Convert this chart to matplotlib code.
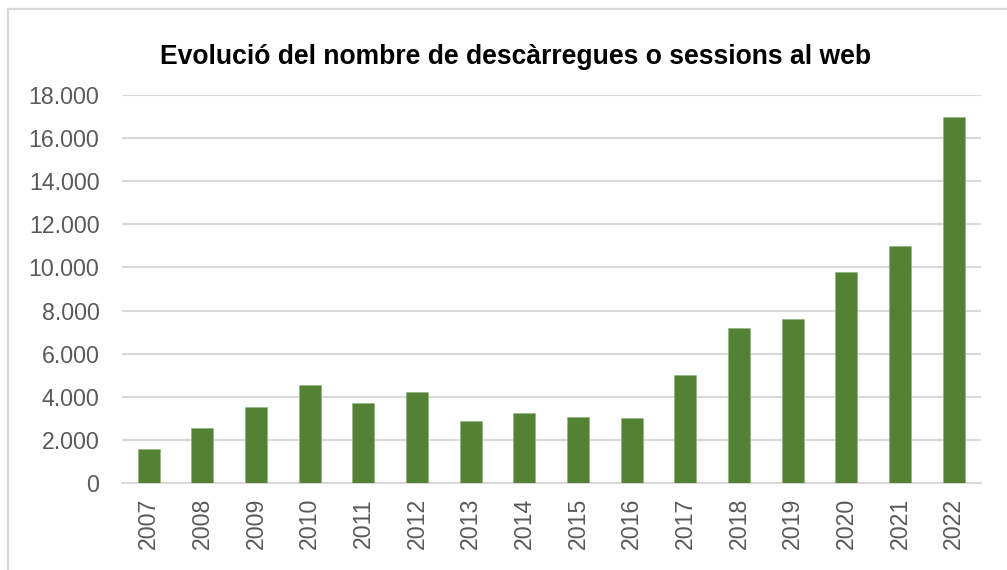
import matplotlib
matplotlib.use("Agg")
import matplotlib.pyplot as plt
from matplotlib.patches import Rectangle
from matplotlib.ticker import FuncFormatter

# Annual downloads / web sessions
years = ["2007", "2008", "2009", "2010", "2011", "2012", "2013", "2014",
         "2015", "2016", "2017", "2018", "2019", "2020", "2021", "2022"]
sessions = [1560, 2540, 3500, 4540, 3700, 4210, 2850, 3220,
            3040, 2990, 5000, 7190, 7590, 9770, 11000, 16980]
y_ticks = [0, 2000, 4000, 6000, 8000, 10000, 12000, 14000, 16000, 18000]
title = "Evolució del nombre de descàrregues o sessions al web"

plt.rcParams["font.family"] = ["Liberation Sans", "DejaVu Sans"]

W, H = 1007, 570
fig = plt.figure(figsize=(W / 100, H / 100), dpi=100)
fig.patch.set_facecolor("white")

# chart frame
fig.add_artist(Rectangle((7.5 / W, -0.1), 1.2, (H - 8.5) / H + 0.1,
                         transform=fig.transFigure, fill=False,
                         edgecolor="#d9d9d9", linewidth=1.6))

left, right = 121.7 / W, 980.7 / W
bottom, top = (H - 482.7) / H, (H - 95.3) / H
ax = fig.add_axes([left, bottom, right - left, top - bottom])

x = range(len(years))
ax.bar(x, sessions, width=0.41, color="#548235", edgecolor="#8fb07a",
       linewidth=0.4, zorder=3)

ax.set_xlim(-0.5, len(years) - 0.5)
ax.set_ylim(0, 18000)
ax.set_yticks(y_ticks)
ax.yaxis.set_major_formatter(FuncFormatter(lambda v, p: f"{int(v):,}".replace(",", ".")))
ax.set_xticks(list(x))
ax.set_xticklabels(years, rotation=90, va="top", ha="center")

ax.grid(axis="y", color="#d9d9d9", linewidth=1.5, zorder=0)
ax.set_axisbelow(True)
for s in ["top", "right", "left"]:
    ax.spines[s].set_visible(False)
ax.spines["bottom"].set_color("#d9d9d9")
ax.spines["bottom"].set_linewidth(1.5)

ax.tick_params(axis="both", length=0, labelsize=16.7, labelcolor="#595959")
ax.tick_params(axis="y", pad=16)
ax.tick_params(axis="x", pad=11)

fig.text(516 / W, (H - 63.5) / H, title, ha="center", va="baseline",
         fontsize=19.1, fontweight="bold", color="black")

fig.savefig("out.png", dpi=100, facecolor="white")
